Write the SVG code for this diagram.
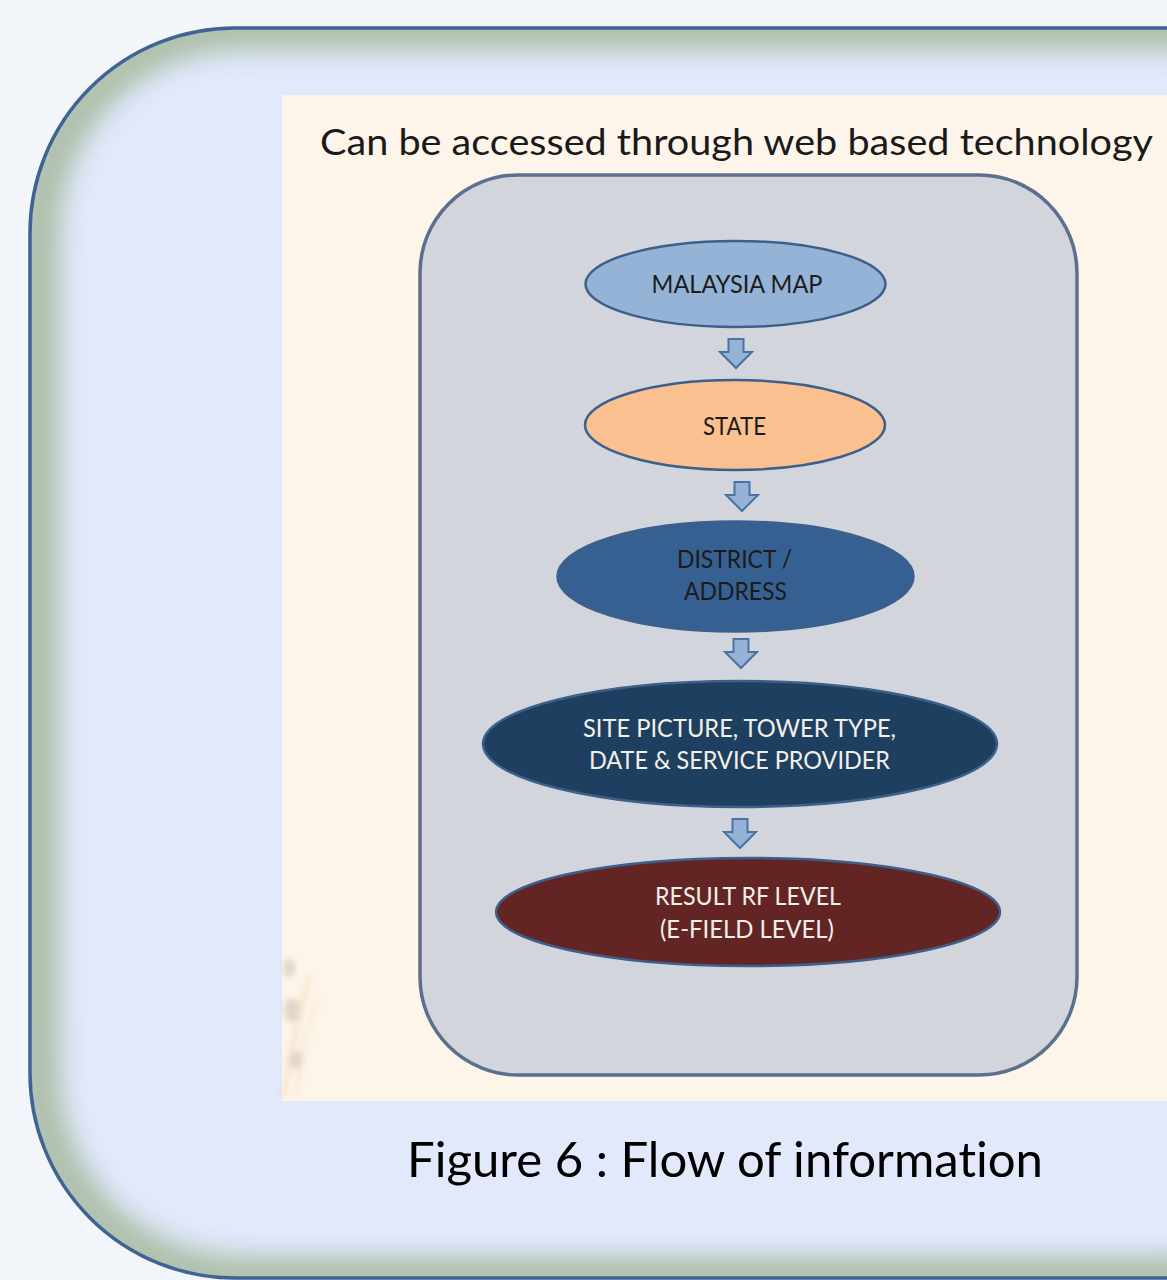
<svg xmlns="http://www.w3.org/2000/svg" width="1167" height="1280" viewBox="0 0 1167 1280">
  <style>
    text { font-variant-ligatures: none; }
    .node-label { font-family: Lato, "Open Sans", "Liberation Sans", sans-serif; font-size: 25px; text-anchor: middle; }
    .dark { fill: #1b1b1b; }
    .light { fill: #f4efe8; }
    .node-shape { stroke: #3d5f8c; stroke-width: 2.5; }
    .flow-arrow { fill: #95b3d7; stroke: #4a72a5; stroke-width: 2; stroke-linejoin: miter; }
  </style>
  <defs>
    <clipPath id="frameClip">
      <rect x="30" y="28" width="1340" height="1250" rx="205" ry="205"/>
    </clipPath>
    <filter id="soften" x="-10%" y="-10%" width="120%" height="120%">
      <feGaussianBlur stdDeviation="12"/>
    </filter>
    <filter id="haze" x="-20%" y="-20%" width="140%" height="140%">
      <feGaussianBlur stdDeviation="3"/>
    </filter>
    <path id="downArrow" d="M -7.5 0 H 7.5 V 13 H 16 L 0 29 L -16 13 H -7.5 Z"/>
  </defs>

  <!-- page -->
  <rect x="0" y="0" width="1167" height="1280" fill="#f2f6fb"/>

  <!-- rounded frame with soft inner rim -->
  <g id="frame">
    <rect x="30" y="28" width="1340" height="1250" rx="205" ry="205" fill="#e1e9fb"/>
    <g clip-path="url(#frameClip)">
      <rect x="38" y="28" width="1340" height="1250" rx="205" ry="205" fill="none" stroke="#a9bba2" stroke-width="44" opacity="0.9" filter="url(#soften)"/>
    </g>
    <rect x="30" y="28" width="1340" height="1250" rx="205" ry="205" fill="none" stroke="#3e6495" stroke-width="3.5"/>
  </g>

  <!-- cream slide panel -->
  <g id="panel">
    <rect x="282" y="95" width="900" height="1006" fill="#fdf5ea"/>
    <!-- faded grass decoration in the lower left corner -->
    <g opacity="0.3" filter="url(#haze)">
      <path d="M 284 1098 C 290 1050 300 1010 310 975" stroke="#e0b070" stroke-width="4" fill="none"/>
      <path d="M 296 1098 C 300 1060 306 1030 318 1000" stroke="#e6bf86" stroke-width="3" fill="none"/>
      <ellipse cx="289" cy="968" rx="6" ry="10" fill="#9a9080"/>
      <ellipse cx="292" cy="1010" rx="8" ry="12" fill="#9a9080"/>
      <ellipse cx="296" cy="1060" rx="7" ry="10" fill="#a09480"/>
    </g>
    <text x="320" y="155" font-family="Lato, 'Open Sans', 'Liberation Sans', sans-serif" font-size="37" fill="#1a1a1a" textLength="833" lengthAdjust="spacingAndGlyphs">Can be accessed through web based technology</text>
  </g>

  <!-- container for the flow -->
  <g id="container">
    <rect x="420" y="175" width="657" height="900" rx="98" ry="98" fill="#d3d5dc" stroke="#5b6f8f" stroke-width="3.5"/>
  </g>

  <!-- connectors -->
  <g id="connectors">
    <use href="#downArrow" class="flow-arrow" transform="translate(736 339)"/>
    <use href="#downArrow" class="flow-arrow" transform="translate(742 482)"/>
    <use href="#downArrow" class="flow-arrow" transform="translate(741 639)"/>
    <use href="#downArrow" class="flow-arrow" transform="translate(740 819)"/>
  </g>

  <!-- nodes -->
  <g id="node-malaysia-map">
    <ellipse cx="735.5" cy="284" rx="150" ry="43" fill="#95b3d7" class="node-shape"/>
    <text x="737" y="293" class="node-label dark" textLength="171" lengthAdjust="spacingAndGlyphs">MALAYSIA MAP</text>
  </g>

  <g id="node-state">
    <ellipse cx="735" cy="425" rx="150" ry="45" fill="#fac090" class="node-shape"/>
    <text x="734.5" y="435" class="node-label dark" textLength="63" lengthAdjust="spacingAndGlyphs">STATE</text>
  </g>

  <g id="node-district">
    <ellipse cx="735.5" cy="576.5" rx="178" ry="55" fill="#366092" class="node-shape"/>
    <text x="734.5" y="568" class="node-label dark" textLength="115" lengthAdjust="spacingAndGlyphs">DISTRICT /</text>
    <text x="735.5" y="600" class="node-label dark" textLength="103" lengthAdjust="spacingAndGlyphs">ADDRESS</text>
  </g>

  <g id="node-site">
    <ellipse cx="740" cy="744" rx="257" ry="63" fill="#1f3f60" class="node-shape"/>
    <text x="739.5" y="737" class="node-label light" textLength="313" lengthAdjust="spacingAndGlyphs">SITE PICTURE, TOWER TYPE,</text>
    <text x="739.5" y="769" class="node-label light" textLength="301" lengthAdjust="spacingAndGlyphs">DATE &amp; SERVICE PROVIDER</text>
  </g>

  <g id="node-result">
    <ellipse cx="748" cy="912" rx="252" ry="54" fill="#632523" class="node-shape"/>
    <text x="748" y="905" class="node-label light" textLength="186" lengthAdjust="spacingAndGlyphs">RESULT RF LEVEL</text>
    <text x="747" y="938" class="node-label light" textLength="174" lengthAdjust="spacingAndGlyphs">(E-FIELD LEVEL)</text>
  </g>

  <!-- caption -->
  <g id="caption">
    <text x="407" y="1177" font-family="Lato, 'Open Sans', 'Liberation Sans', sans-serif" font-size="48" fill="#000000" textLength="636" lengthAdjust="spacingAndGlyphs">Figure 6 : Flow of information</text>
  </g>
</svg>
